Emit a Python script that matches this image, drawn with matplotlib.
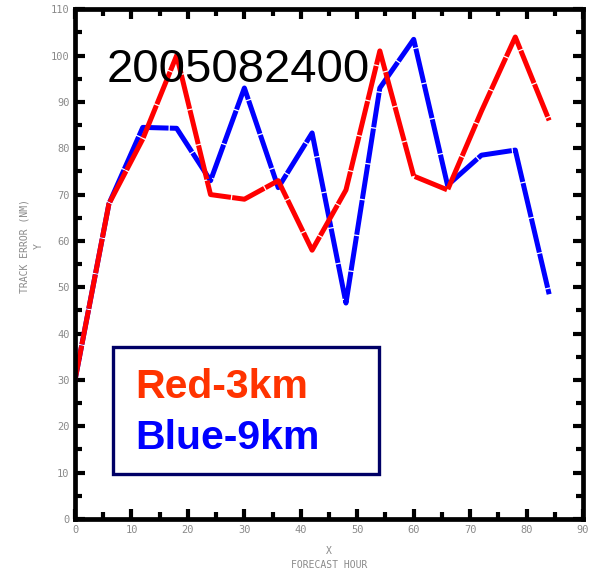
import matplotlib
matplotlib.use("Agg")
import matplotlib.pyplot as plt
from matplotlib.ticker import MultipleLocator
from matplotlib.patches import Rectangle

# Forecast track error by lead time for two model resolutions
hours = [0, 6, 12, 18, 24, 30, 36, 42, 48, 54, 60, 66, 72, 78, 84]
red_3km = [30, 68, 82, 100, 70, 69, 73, 58, 71, 101, 74, 71, 88, 104, 86]
blue_9km = [30, 68, 84.5, 84.3, 73, 93, 71.5, 83.3, 46.6, 93, 103.5, 72, 78.5, 79.6, 48.5]

case_id = "2005082400"
legend_lines = [("Red-3km", "#FF3300"), ("Blue-9km", "#0000FF")]

fig = plt.figure(figsize=(5.91, 5.75), dpi=100)
ax = fig.add_axes([0.127, 0.0974, 0.8595, 0.8866])

line_kw = dict(linewidth=3.6, solid_capstyle="butt", dash_capstyle="butt")
ax.plot(hours, blue_9km, color="#0000FF", dashes=(7, 0.25), **line_kw)
ax.plot(hours, red_3km, color="#FF0000", dashes=(7, 0.25), **line_kw)

ax.set_xlim(0, 90)
ax.set_ylim(0, 110)
ax.xaxis.set_major_locator(MultipleLocator(10))
ax.xaxis.set_minor_locator(MultipleLocator(5))
ax.yaxis.set_major_locator(MultipleLocator(10))
ax.yaxis.set_minor_locator(MultipleLocator(5))

for s in ax.spines.values():
    s.set_linewidth(3.4)
    s.set_color("black")

ax.tick_params(which="both", direction="in", width=3, color="black",
               top=True, right=True, labelsize=7.5, labelcolor="#8a8a8a")
ax.tick_params(which="major", length=7, pad=4)
ax.tick_params(which="minor", length=5)
for lab in ax.get_xticklabels() + ax.get_yticklabels():
    lab.set_family("DejaVu Sans Mono")

ax.set_xlabel("X\nFORECAST HOUR", fontsize=7, color="#8a8a8a",
              family="DejaVu Sans Mono", linespacing=1.6, labelpad=8)
ax.set_ylabel("TRACK ERROR (NM)\nY", fontsize=7, color="#8a8a8a",
              family="DejaVu Sans Mono", linespacing=1.6, labelpad=5, y=0.535)

ax.text(0.063, 0.857, case_id, transform=ax.transAxes, fontsize=34,
        family="Liberation Sans", color="black", va="baseline", ha="left",
        zorder=7)

# Boxed resolution key
ax.add_patch(Rectangle((0.074, 0.089), 0.524, 0.249, transform=ax.transAxes,
                       facecolor="white", edgecolor="#000066", linewidth=2.4,
                       zorder=5))
for i, (txt, col) in enumerate(legend_lines):
    ax.text(0.118, 0.237 - i * 0.1, txt, transform=ax.transAxes,
            fontsize=29.5, fontweight="bold", family="Liberation Sans",
            color=col, va="baseline", ha="left", zorder=6)

fig.savefig("out.png", dpi=100)
